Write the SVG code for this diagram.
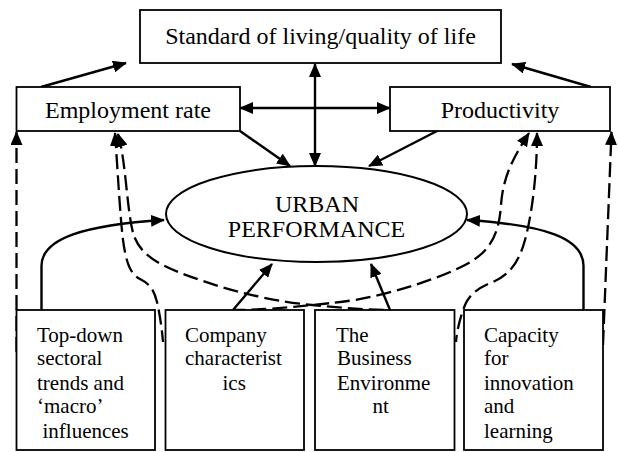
<svg xmlns="http://www.w3.org/2000/svg" width="618" height="452" viewBox="0 0 618 452">
<style>
  .box { fill: #fff; stroke: #000; stroke-width: 1.8; }
  .t { font-family: "Liberation Serif", "Times New Roman", serif; fill: #000; }
  .big { font-size: 24px; }
  .small { font-size: 21px; }
  .arr { fill: none; stroke: #000; stroke-width: 2.4; }
  .dash { fill: none; stroke: #000; stroke-width: 2.3; stroke-dasharray: 15 6; }
</style>
<defs>
  <marker id="ah" viewBox="0 0 14 12" markerWidth="14" markerHeight="12" refX="13" refY="6" orient="auto-start-reverse" markerUnits="userSpaceOnUse">
    <path d="M0,0 L14,6 L0,12 z" fill="#000"/>
  </marker>
</defs>
<rect width="618" height="452" fill="#fff"/>

<g id="connectors">
  <path class="arr" d="M41,87 L126,63" marker-end="url(#ah)"/>
  <path class="arr" d="M591,87 L512,64" marker-end="url(#ah)"/>
  <path class="arr" d="M315,64 L315,166" marker-start="url(#ah)" marker-end="url(#ah)"/>
  <path class="arr" d="M240,108 L390,108" marker-start="url(#ah)" marker-end="url(#ah)"/>
  <path class="arr" d="M240,131 L290,166" marker-end="url(#ah)"/>
  <path class="arr" d="M437,131 L369,166" marker-end="url(#ah)"/>
  <path class="arr" d="M233,310 L272,264" marker-end="url(#ah)"/>
  <path class="arr" d="M390,310 L371,264" marker-end="url(#ah)"/>
  <path class="arr" d="M41.5,310 L41.5,266 C41.5,238 85,225 164,220" marker-end="url(#ah)"/>
  <path class="arr" d="M583.5,310 L583.5,266 C583.5,238 545,225 467,220" marker-end="url(#ah)"/>
  <path class="dash" d="M16.5,352 L16.5,132" marker-end="url(#ah)"/>
  <path class="dash" d="M603,345 L611.5,132" marker-end="url(#ah)"/>
  <path class="dash" d="M115,133 C118,175 120,215 123,240 C126,262 130,274 140,279 C150,284 154,290 157,302 C160,315 162,330 163,342" marker-start="url(#ah)"/>
  <path class="dash" d="M118,134 C126,160 127,215 134,236 C142,258 165,268 200,280 C240,294 280,302 312,305 C345,308 370,310 388,310" marker-start="url(#ah)"/>
  <path class="dash" d="M529,133 C515,155 503,175 501,205 C499,235 490,252 465,265 C440,278 395,293 355,300 C335,303 320,304 312,305 C285,308 255,310 235,310" marker-start="url(#ah)"/>
  <path class="dash" d="M537,133 C537,170 533,210 525,240 C519,262 510,274 495,281 C480,287 470,293 465,305 C460,318 457,330 456,342" marker-start="url(#ah)"/>
</g>

<g id="standard">
  <rect class="box" x="140" y="10" width="361" height="53"/>
  <text class="t big" x="320.5" y="44" text-anchor="middle">Standard of living/quality of life</text>
</g>
<g id="employment">
  <rect class="box" x="16.5" y="87" width="223.5" height="44"/>
  <text class="t big" x="128" y="118" text-anchor="middle">Employment rate</text>
</g>
<g id="productivity">
  <rect class="box" x="390" y="87" width="220" height="44"/>
  <text class="t big" x="500" y="118" text-anchor="middle">Productivity</text>
</g>
<g id="urban">
  <ellipse cx="316.5" cy="214" rx="150.5" ry="48" fill="#fff" stroke="#000" stroke-width="2"/>
  <text class="t big" x="317" y="211.5" text-anchor="middle">URBAN</text>
  <text class="t big" x="316.5" y="237" text-anchor="middle">PERFORMANCE</text>
</g>
<g id="topdown">
  <rect class="box" x="16.5" y="310" width="138.5" height="140"/>
  <text class="t small" x="37" y="341.5">Top-down</text>
  <text class="t small" x="37" y="365">sectoral</text>
  <text class="t small" x="37" y="390">trends and</text>
  <text class="t small" x="37" y="413">‘macro’</text>
  <text class="t small" x="42.5" y="438">influences</text>
</g>
<g id="company">
  <rect class="box" x="165.5" y="310" width="138.5" height="140"/>
  <text class="t small" x="185" y="341.5">Company</text>
  <text class="t small" x="185" y="365">characterist</text>
  <text class="t small" x="222.5" y="390">ics</text>
</g>
<g id="business">
  <rect class="box" x="315" y="310" width="139.5" height="140"/>
  <text class="t small" x="336" y="341.5">The</text>
  <text class="t small" x="337" y="365">Business</text>
  <text class="t small" x="337" y="390">Environme</text>
  <text class="t small" x="372.5" y="413">nt</text>
</g>
<g id="capacity">
  <rect class="box" x="464" y="310" width="139" height="140"/>
  <text class="t small" x="484" y="341.5">Capacity</text>
  <text class="t small" x="484" y="365">for</text>
  <text class="t small" x="484" y="390">innovation</text>
  <text class="t small" x="484" y="413">and</text>
  <text class="t small" x="484" y="438">learning</text>
</g>
</svg>
